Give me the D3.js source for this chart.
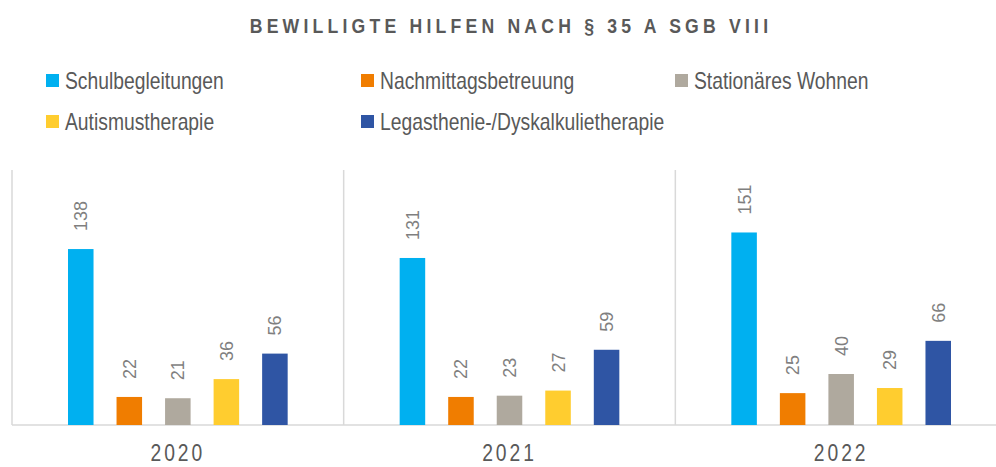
<!DOCTYPE html>
<html>
<head>
<meta charset="utf-8">
<script src="https://cdn.jsdelivr.net/npm/d3@7"></script>
<style>
  body { margin: 0; background: #fff; }
  text { font-family: "Liberation Sans", Arial, sans-serif; }
</style>
</head>
<body>
<svg id="chart"></svg>
<script>
// data
var years = ['2020', '2021', '2022'];
var series = ['Schulbegleitungen', 'Nachmittagsbetreuung', 'Stationäres Wohnen', 'Autismustherapie', 'Legasthenie-/Dyskalkulietherapie'];
var schul = [138, 131, 151];
var nachmittag = [22, 22, 25];
var stationaer = [21, 23, 40];
var autismus = [36, 27, 29];
var legasthenie = [56, 59, 66];
var colors = ['#00b0f0', '#f07d00', '#afa99e', '#ffcd2f', '#2f55a4'];

var values = [schul, nachmittag, stationaer, autismus, legasthenie];
var svgWidth = 996, svgHeight = 467;
var sx = 0.84; // text looks horizontally squeezed

var svg = d3.select('#chart').attr('width', svgWidth).attr('height', svgHeight);

// title
svg.append('text')
    .attr('transform', 'translate(511,33) scale(' + sx + ',1)')
    .attr('text-anchor', 'middle')
    .style('font-size', '21px').style('font-weight', 'bold')
    .style('letter-spacing', '5px').style('fill', '#595959')
    .text('BEWILLIGTE HILFEN NACH § 35 A SGB VIII');

// legend
var legendPos = [[46, 74], [361, 74], [675, 74], [46, 115], [361, 115]];
var legend = svg.selectAll('.legend').data(series).enter().append('g')
    .attr('class', 'legend')
    .attr('transform', function (d, i) { return 'translate(' + legendPos[i] + ')'; });
legend.append('rect').attr('width', 13).attr('height', 13)
    .attr('fill', function (d, i) { return colors[i]; });
legend.append('text')
    .attr('transform', 'translate(19,14.5) scale(' + sx + ',1)')
    .style('font-size', '23px').style('fill', '#595959')
    .text(function (d) { return d; });

// scales
var x0 = d3.scaleBand().domain(years).range([12, 1007]);
var x1 = d3.scaleBand().domain(series).range([56, x0.bandwidth() - 56]).paddingInner(0.474);
var y = d3.scaleLinear().domain([0, 200]).range([425, 170]);

// separators + baseline
svg.selectAll('.sep').data(years).enter().append('line')
    .attr('x1', function (d) { return x0(d); }).attr('x2', function (d) { return x0(d); })
    .attr('y1', y(200)).attr('y2', y(0))
    .attr('stroke', '#d9d9d9').attr('stroke-width', 1.5);
svg.append('line').attr('x1', 12).attr('x2', svgWidth).attr('y1', y(0)).attr('y2', y(0))
    .attr('stroke', '#d9d9d9').attr('stroke-width', 1.5);

// bars
var groups = svg.selectAll('.year').data(years).enter().append('g')
    .attr('class', 'year')
    .attr('transform', function (d) { return 'translate(' + x0(d) + ',0)'; });

var cells = groups.selectAll('g.cell')
    .data(function (d, yi) { return series.map(function (s, si) { return { s: s, i: si, v: values[si][yi] }; }); })
    .enter().append('g').attr('class', 'cell');

cells.append('rect')
    .attr('x', function (d) { return x1(d.s); })
    .attr('y', function (d) { return y(d.v); })
    .attr('width', x1.bandwidth())
    .attr('height', function (d) { return y(0) - y(d.v); })
    .attr('fill', function (d) { return colors[d.i]; });

cells.append('text')
    .attr('transform', function (d) {
        return 'translate(' + (x1(d.s) + x1.bandwidth() / 2) + ',' + (y(d.v) - 18) + ') rotate(-90)';
    })
    .attr('dy', '0.36em')
    .style('font-size', '18px').style('fill', '#7f7f7f')
    .text(function (d) { return d.v; });

// year labels
groups.append('text')
    .attr('transform', 'translate(' + (x0.bandwidth() / 2) + ',461) scale(' + sx + ',1)')
    .attr('text-anchor', 'middle')
    .style('font-size', '23px').style('letter-spacing', '3.5px').style('fill', '#595959')
    .text(function (d) { return d; });
</script>
</body>
</html>
